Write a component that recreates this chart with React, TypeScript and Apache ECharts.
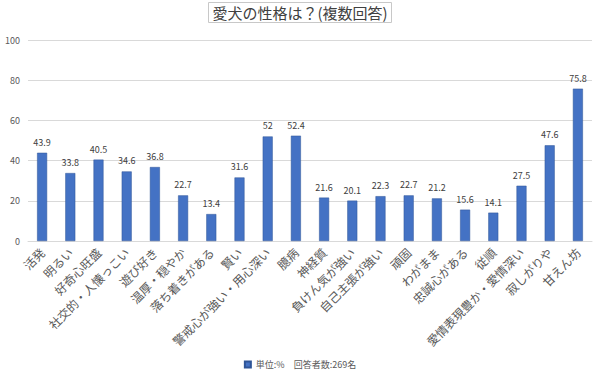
import React, { useEffect, useRef } from "react";
import * as echarts from "echarts";

const categories = [
  "活発", "明るい", "好奇心旺盛", "社交的・人懐っこい", "遊び好き", "温厚・穏やか",
  "落ち着きがある", "賢い", "警戒心が強い・用心深い", "臆病", "神経質", "負けん気が強い",
  "自己主張が強い", "頑固", "わがまま", "忠誠心がある", "従順", "愛情表現豊か・愛情深い",
  "寂しがりや", "甘えん坊",
];
const values = [43.9, 33.8, 40.5, 34.6, 36.8, 22.7, 13.4, 31.6, 52, 52.4, 21.6, 20.1, 22.3, 22.7, 21.2, 15.6, 14.1, 27.5, 47.6, 75.8];
const seriesName = "単位:%";
const noteText = "回答者数:269名";
const titleText = "愛犬の性格は？(複数回答)";

const FONT = "'Noto Sans CJK JP', 'Noto Sans', sans-serif";

export default function App() {
  const ref = useRef<HTMLDivElement>(null);
  useEffect(() => {
    document.body.style.margin = "0";
    if (!ref.current) return;
    const chart = echarts.init(ref.current, null, { renderer: "svg" });
    chart.setOption({
      animation: false,
      backgroundColor: "#ffffff",
      textStyle: { fontFamily: FONT },
      title: {
        text: titleText,
        left: "center",
        top: 2,
        padding: [3, 4, 3, 4],
        borderColor: "#c8c8c8",
        borderWidth: 1,
        textStyle: { fontSize: 15, fontWeight: "normal", color: "#404040", fontFamily: FONT },
      },
      legend: {
        top: 355,
        left: "center",
        itemWidth: 6,
        itemHeight: 6,
        icon: "rect",
        textStyle: { fontSize: 9, color: "#595959", fontFamily: FONT },
        formatter: (n: string) => n + "　" + noteText,
        data: [seriesName],
      },
      grid: { left: 28, right: 8, top: 40, bottom: 132 },
      xAxis: {
        type: "category",
        data: categories,
        axisTick: { show: false },
        axisLine: { lineStyle: { color: "#d9d9d9" } },
        axisLabel: {
          rotate: 45,
          interval: 0,
          fontSize: 12,
          color: "#595959",
          fontFamily: FONT,
          margin: 9,
        },
      },
      yAxis: {
        type: "value",
        min: 0,
        max: 100,
        interval: 20,
        axisLine: { show: false },
        axisTick: { show: false },
        splitLine: { lineStyle: { color: "#d9d9d9" } },
        axisLabel: { fontSize: 9, color: "#595959", margin: 8 },
      },
      series: [
        {
          name: seriesName,
          type: "bar",
          data: values,
          barWidth: 10,
          itemStyle: { color: "#4472C4", borderColor: "#2f5597", borderWidth: 0.5 },
          label: {
            show: true,
            position: "top",
            distance: 6,
            fontSize: 9,
            color: "#404040",
          },
        },
      ],
    });
    return () => chart.dispose();
  }, []);
  return <div ref={ref} style={{ width: 600, height: 373 }} />;
}
